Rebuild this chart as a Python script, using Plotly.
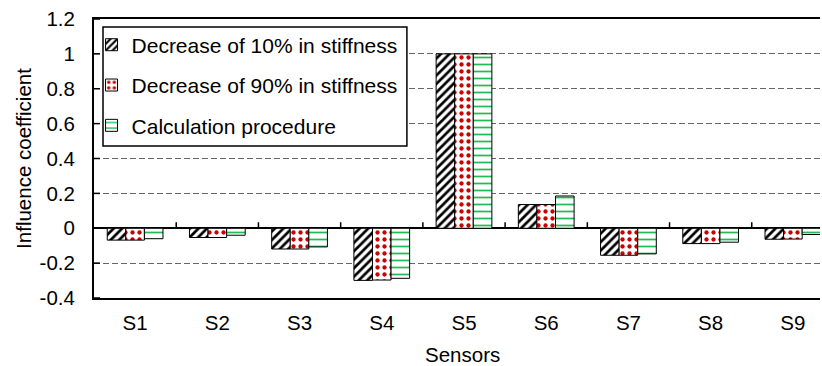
import plotly.graph_objects as go

sensors = ["S1", "S2", "S3", "S4", "S5", "S6", "S7", "S8", "S9"]
dec10 = [-0.068, -0.053, -0.119, -0.299, 1.0, 0.136, -0.155, -0.088, -0.063]
dec90 = [-0.068, -0.053, -0.119, -0.297, 1.0, 0.136, -0.155, -0.088, -0.062]
calc = [-0.060, -0.040, -0.107, -0.287, 1.0, 0.185, -0.147, -0.080, -0.036]
names = ["Decrease of 10% in stiffness", "Decrease of 90% in stiffness", "Calculation procedure"]
y_ticks = [-0.4, -0.2, 0, 0.2, 0.4, 0.6, 0.8, 1, 1.2]
y_ticktext = ["-0.4", "-0.2", "0", "0.2", "0.4", "0.6", "0.8", "1", "1.2"]
Y_RANGE = [-0.4, 1.2]
X_RANGE = [-0.5, 8.33]

FONT = "Arial, Liberation Sans, sans-serif"
idx = list(range(len(sensors)))
boundaries = [i + 0.5 for i in idx[:-1]]

# tick length (6 px) expressed in axis units
PLOT_W, PLOT_H = 726, 279
TICK_PX = 6
y_tick_len = TICK_PX * (Y_RANGE[1] - Y_RANGE[0]) / PLOT_H
x_tick_len = TICK_PX * (X_RANGE[1] - X_RANGE[0]) / PLOT_W

fig = go.Figure()
styles = [
    dict(shape="/", fgcolor="black", bgcolor="white", size=6, solidity=0.45),
    dict(shape=".", fgcolor="#cc0000", bgcolor="white", size=7, solidity=0.3),
    dict(shape="-", fgcolor="#22bb55", bgcolor="white", size=7, solidity=0.25),
]
for i, (vals, nm) in enumerate(zip([dec10, dec90, calc], names)):
    fig.add_trace(go.Bar(
        x=idx, y=vals, name=nm, legendgroup=f"g{i}",
        marker=dict(color="white", line=dict(color="black", width=1),
                    pattern=dict(fillmode="replace", **styles[i])),
    ))

# small upward ticks on the zero line at category boundaries
fig.add_trace(go.Scatter(
    x=boundaries, y=[0 for _ in boundaries], mode="markers",
    marker=dict(size=1, color="rgba(0,0,0,0)"), showlegend=False, hoverinfo="skip",
    error_y=dict(type="constant", value=y_tick_len, valueminus=0, symmetric=False,
                 width=0, thickness=1.5, color="black"),
))
# inside ticks on the y axis
fig.add_trace(go.Scatter(
    x=[X_RANGE[0] for _ in y_ticks], y=y_ticks, mode="markers",
    marker=dict(size=1, color="rgba(0,0,0,0)"), showlegend=False, hoverinfo="skip",
    error_x=dict(type="constant", value=x_tick_len, valueminus=0, symmetric=False,
                 width=0, thickness=1.5, color="black"),
))

fig.update_layout(
    width=822, height=366,
    margin=dict(l=94, r=2, t=19, b=68),
    paper_bgcolor="white", plot_bgcolor="white",
    font=dict(family=FONT, size=21, color="black"),
    barmode="group", bargap=0.322, bargroupgap=0,
    showlegend=True,
    legend=dict(x=-0.0034, y=0.98, xanchor="left", yanchor="top",
                bgcolor="rgba(0,0,0,0)", borderwidth=0,
                font=dict(family=FONT, size=21, color="black"),
                traceorder="grouped", tracegroupgap=10),
    xaxis=dict(type="linear", range=X_RANGE, tickmode="array",
               tickvals=idx, ticktext=sensors,
               showline=True, linecolor="black", linewidth=2, mirror=True,
               ticks="", showgrid=False, zeroline=False,
               tickfont=dict(size=20.5), ticklabelstandoff=5),
    yaxis=dict(range=Y_RANGE, tickvals=y_ticks, ticktext=y_ticktext,
               showline=True, linecolor="black", linewidth=2,
               ticks="", showgrid=True, gridcolor="#666666",
               griddash="6px,3px", gridwidth=1,
               zeroline=True, zerolinecolor="black", zerolinewidth=1.5,
               tickfont=dict(size=20.5), ticklabelstandoff=13,
               title=dict(text="Influence coefficient", font=dict(size=20.5), standoff=2)),
    shapes=[
        dict(type="rect", xref="paper", yref="paper",
             x0=0.0124, x1=0.431, y0=0.545, y1=0.971,
             line=dict(color="black", width=1.5), fillcolor="white", layer="above"),
    ],
    annotations=[dict(text="Sensors", xref="paper", yref="paper", x=0.508, y=-0.204,
                      xanchor="center", yanchor="middle", showarrow=False,
                      font=dict(size=20.5))],
)
fig.write_html("out.html")
